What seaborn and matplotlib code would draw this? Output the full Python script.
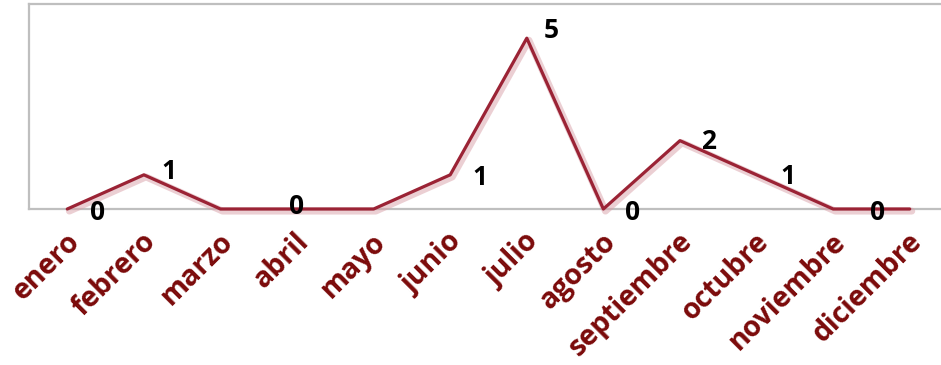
import matplotlib
matplotlib.use('Agg')
import matplotlib.pyplot as plt
import matplotlib.patheffects as pe
import seaborn as sns
import pandas as pd

months = ['enero', 'febrero', 'marzo', 'abril', 'mayo', 'junio', 'julio',
          'agosto', 'septiembre', 'octubre', 'noviembre', 'diciembre']
counts = [0, 1, 0, 0, 0, 1, 5, 0, 2, 1, 0, 0]
# which points carry a data label, and the label offset (pixels) from the point
labelled = ['enero', 'febrero', 'abril', 'junio', 'julio', 'agosto',
            'septiembre', 'octubre', 'diciembre']
label_offsets = {'enero': (30, -3), 'febrero': (25, 3), 'abril': (0, 2),
                 'junio': (30, -3), 'julio': (24, 8), 'agosto': (29, -4),
                 'septiembre': (29, -1), 'octubre': (31, -2), 'diciembre': (-32, -3)}

df = pd.DataFrame({'mes': months, 'n': counts})

line_color = '#9b2335'
tick_color = '#7b0a0a'

sns.set_style('white')
plt.rcParams['font.family'] = ['Open Sans', 'DejaVu Sans']

fig = plt.figure(figsize=(9.41, 3.65), dpi=100)
ax = fig.add_axes([29 / 941, 1 - 209 / 365, 919 / 941, 205 / 365])

sns.lineplot(data=df, x='mes', y='n', ax=ax, color=line_color, linewidth=2.3,
             sort=False)
ln = ax.lines[0]
ln.set_clip_on(False)
ln.set_zorder(5)
ln.set_path_effects([
    pe.SimpleLineShadow(offset=(1.5, -1.5), shadow_color='#d9a0a8', alpha=0.5, linewidth=5),
    pe.Normal()])

for m, v in zip(months, counts):
    if m in labelled:
        dx, dy = label_offsets[m]
        ax.annotate(str(v), (months.index(m), v), xytext=(dx * 0.72, dy * 0.72),
                    textcoords='offset points', ha='center', va='center',
                    fontsize=19, fontweight='bold', color='black', zorder=6)

ax.set_xlim(-0.5, 11.5)
ax.set_ylim(0, 6)
ax.set_yticks([])
ax.set_xlabel('')
ax.set_ylabel('')
for s in ax.spines.values():
    s.set_color('#bfbfbf')
    s.set_linewidth(1.6)
ax.tick_params(axis='x', length=0, pad=6)
plt.setp(ax.get_xticklabels(), rotation=45, ha='right', va='center',
         rotation_mode='anchor', fontsize=20.5, fontweight='bold', color=tick_color)
for lbl in ax.get_xticklabels():
    lbl.set_transform(lbl.get_transform() + matplotlib.transforms.ScaledTranslation(0.08, -0.2, fig.dpi_scale_trans))

fig.savefig('out.png', dpi=100)
